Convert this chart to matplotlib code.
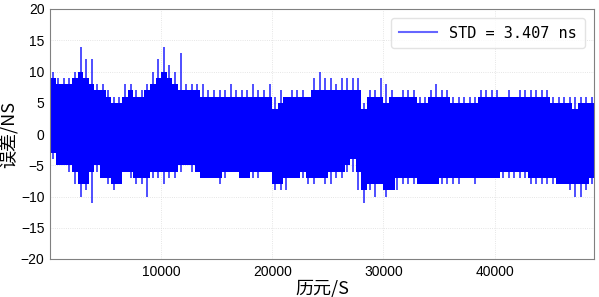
import numpy as np
import matplotlib.pyplot as plt

# Envelope of the timing error series, read per 500-epoch bin
bin_width = 500
x_end = 48940
hi_core = [9, 8, 8, 8, 9, 10, 9, 8, 7, 7, 6, 5, 5, 6, 7, 6, 6, 7, 8, 9, 10, 9, 8, 7, 7, 7, 7, 6, 6, 6, 6, 6, 6,
           6, 6, 6, 6, 6, 6, 6, 4, 5, 6, 6, 6, 6, 6, 7, 7, 7, 7, 7, 7, 7, 7, 7, 4, 6, 6, 6, 5, 6, 6, 6, 6, 6,
           5, 5, 6, 6, 6, 6, 5, 5, 5, 5, 5, 6, 6, 6, 6, 6, 6, 6, 6, 6, 6, 6, 6, 6, 5, 5, 5, 5, 4, 5, 5, 5]
hi_peak = [10, 9, 9, 9, 10, 14, 12, 12, 8, 8, 7, 6, 6, 8, 8, 7, 7, 8, 10, 12, 14, 11, 10, 13, 8, 8, 8, 8, 7, 7, 7, 7, 8,
           7, 7, 7, 8, 7, 7, 8, 6, 7, 6, 7, 7, 7, 6, 9, 10, 9, 9, 8, 9, 9, 9, 9, 5, 7, 7, 9, 8, 7, 6, 7, 7, 7,
           6, 6, 7, 8, 7, 7, 6, 6, 6, 6, 6, 7, 7, 7, 7, 6, 7, 6, 7, 7, 7, 7, 7, 7, 6, 6, 6, 6, 6, 6, 6, 6]
lo_core = [-3, -5, -5, -5, -6, -8, -8, -6, -5, -7, -7, -8, -8, -6, -6, -7, -7, -7, -6, -6, -6, -6, -6, -5, -5, -5, -6,
           -7, -7, -7, -7, -6, -6,
           -6, -7, -7, -6, -6, -6, -6, -8, -8, -7, -7, -7, -6, -7, -7, -7, -7, -6, -6, -6, -5, -4, -6, -9, -8, -8,
           -8, -9, -9, -7, -7, -7, -7,
           -8, -8, -8, -8, -7, -7, -7, -7, -7, -7, -7, -7, -7, -7, -7, -6, -6, -6, -6, -6, -7, -7, -7, -7, -7, -8,
           -8, -8, -8, -8, -8, -7]
lo_peak = [-4, -5, -5, -6, -8, -10, -9, -11, -6, -7, -8, -9, -8, -6, -7, -8, -8, -10, -7, -7, -8, -7, -7, -6, -5, -6,
           -6, -7, -7, -7, -8, -7, -6,
           -6, -7, -7, -7, -7, -6, -6, -9, -9, -9, -7, -7, -7, -8, -8, -7, -8, -8, -7, -7, -6, -6, -9, -11, -9, -10,
           -8, -10, -9, -9, -8, -8, -8,
           -8, -8, -8, -8, -8, -8, -8, -8, -7, -7, -8, -7, -7, -7, -7, -7, -7, -7, -7, -7, -8, -8, -8, -8, -8, -8,
           -8, -9, -10, -10, -9, -8]
legend_label = 'STD = 3.407 ns'

n = len(hi_core)
edges = np.arange(n + 1) * bin_width
edges[-1] = x_end
centers = np.arange(n) * bin_width + bin_width * 0.5

plt.rcParams['font.family'] = ['Liberation Sans', 'Noto Sans CJK SC']

fig = plt.figure(figsize=(5.99, 2.97), dpi=100)
ax = fig.add_axes([50 / 599, 1 - 259 / 297, 544 / 599, 250 / 297])
ax.set_axisbelow(True)

ax.fill_between(edges, lo_core + [lo_core[-1]], hi_core + [hi_core[-1]], step='post',
                color='blue', lw=0)
ax.vlines(centers, lo_peak, hi_peak, color='blue', lw=1.3, alpha=0.75)
# legend handle
ax.plot([], [], color='blue', lw=1.5, alpha=0.6, label=legend_label)

ax.set_xlim(0, x_end)
ax.set_ylim(-20, 20)
ax.set_xticks([10000, 20000, 30000, 40000])
ax.set_yticks(np.arange(-20, 21, 5))
ax.tick_params(length=0, labelsize=10, pad=4)
ax.grid(True, linestyle=':', color='#dddddd', lw=0.6)
for s in ax.spines.values():
    s.set_color('#808080')

ax.set_xlabel('历元/S', family=['Noto Sans CJK SC'], fontsize=13, labelpad=1)
ax.set_ylabel('误差/NS', family=['Noto Sans CJK SC'], fontsize=13, labelpad=2)

leg = ax.legend(loc='upper right', prop={'family': 'DejaVu Sans Mono', 'size': 11},
                handlelength=2.5, borderaxespad=0.6, borderpad=0.5, fancybox=True)
leg.get_frame().set_edgecolor('#dddddd')

fig.savefig('out.png', dpi=100)
